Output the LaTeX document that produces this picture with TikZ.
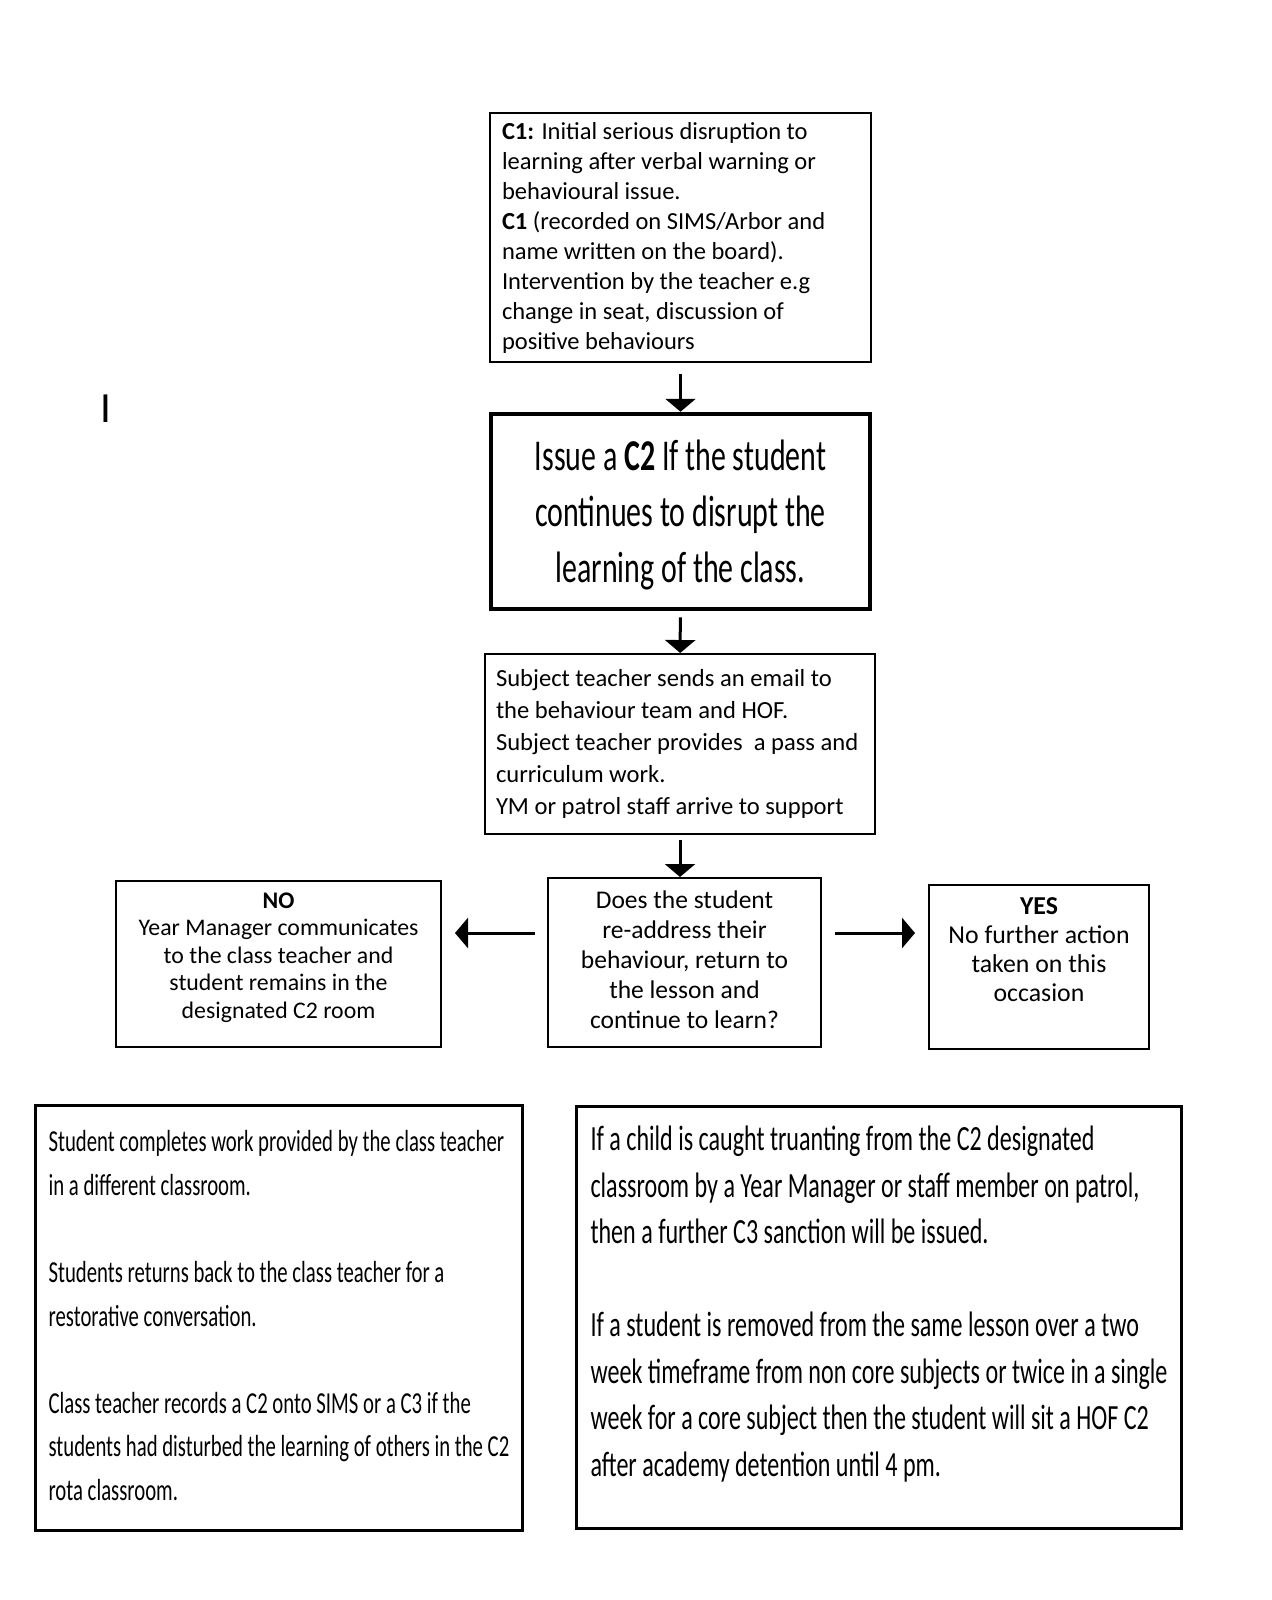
\documentclass[tikz,border=0pt]{standalone}
\usepackage{fontspec}
\usetikzlibrary{arrows.meta}
\newfontfamily\bodyfont{Carlito}
\newfontfamily\narrowfont[FakeStretch=0.68]{Carlito}
\begin{document}
\begin{tikzpicture}[x=1pt,y=-1pt,
  box/.style={draw,line width=2pt,inner xsep=12pt,inner ysep=0pt},
  flow/.style={-{Triangle[width=30pt,length=13pt]},line width=3pt}]
  \useasboundingbox (0,0) rectangle (1271,1600);
  \fill[white] (0,0) rectangle (1271,1600);

  \node (cursor) at (105.5,409) [inner sep=0pt,font=\bodyfont\fontsize{43}{43}\selectfont] {I};

  \node[box,minimum width=381pt,minimum height=249pt,text width=357pt,align=flush left,
        font=\bodyfont\fontsize{24.5}{30}\selectfont] (c1) at (680.5,237.5)
    {\textbf{C1:} Initial serious disruption to\\ learning after verbal warning or\\
     behavioural issue.\\ \textbf{C1} (recorded on SIMS/Arbor and\\ name written on the board).\\
     Intervention by the teacher e.g\\ change in seat, discussion of\\ positive behaviours};
  \node[box,line width=4.5pt,minimum width=379pt,minimum height=195pt,align=center,text depth=0pt,
        font=\narrowfont\fontsize{44}{56}\selectfont] (c2) at (680.5,511.5)
    {Issue a \textbf{C2} If the student\\ continues to disrupt the\\ learning of the class.};
  \node[box,inner xsep=11pt,minimum width=390pt,minimum height=180pt,text width=368pt,align=flush left,
        font=\bodyfont\fontsize{24.6}{31.8}\selectfont] (email) at (680,744)
    {Subject teacher sends an email to\\ the behaviour team and HOF.\\
     Subject teacher provides\ \ a pass and\\ curriculum work.\\ YM or patrol staff arrive to support};

  \node[box,minimum width=273pt,minimum height=169pt,align=center,text depth=6pt,
        font=\bodyfont\fontsize{25.5}{30}\selectfont] (check) at (684.5,962.5)
    {Does the student\\ re-address their\\ behaviour, return to\\ the lesson and\\ continue to learn?};
  \node[box,minimum width=325pt,minimum height=166pt,align=center,text depth=17pt,
        font=\bodyfont\fontsize{23.8}{27.6}\selectfont] (no) at (278.5,964)
    {\textbf{NO}\\ Year Manager communicates\\ to the class teacher and\\ student remains in the\\ designated C2 room};
  \node[box,minimum width=220pt,minimum height=164pt,align=center,text depth=34pt,
        font=\bodyfont\fontsize{25.8}{29}\selectfont] (yes) at (1039,967)
    {\textbf{YES}\\ No further action\\ taken on this\\ occasion};

  \node[box,line width=3pt,minimum width=487pt,minimum height=425pt,align=left,text depth=5pt,
        font=\narrowfont\fontsize{30.5}{43.6}\selectfont] (work) at (279,1318)
    {Student completes work provided by the class teacher\\ in a different classroom.\\[43.6pt]
     Students returns back to the class teacher for a\\ restorative conversation.\\[43.6pt]
     Class teacher records a C2 onto SIMS or a C3 if the\\
     students had disturbed the learning of others in the C2\\ rota classroom.};
  \node[box,line width=3pt,minimum width=605pt,minimum height=422pt,align=left,text depth=33pt,
        font=\narrowfont\fontsize{35.4}{46.5}\selectfont] (truant) at (879,1317.5)
    {If a child is caught truanting from the C2 designated\\
     classroom by a Year Manager or staff member on patrol,\\
     then a further C3 sanction will be issued.\\[46.5pt]
     If a student is removed from the same lesson over a two\\
     week timeframe from non core subjects or twice in a single\\
     week for a core subject then the student will sit a HOF C2\\
     after academy detention until 4 pm.};

  \coordinate (fork) at (680,933);

  \path[flow]
    (c1) edge[shorten <=11pt] (c2)
    (c2) edge[shorten <=6pt] (email)
    (email) edge[shorten <=5pt] (email |- check.north)
    (fork -| check.west) edge[shorten <=12pt,shorten >=13pt] (fork -| no.east)
    (fork -| check.east) edge[shorten <=13pt,shorten >=13pt] (fork -| yes.west);
\end{tikzpicture}
\end{document}
